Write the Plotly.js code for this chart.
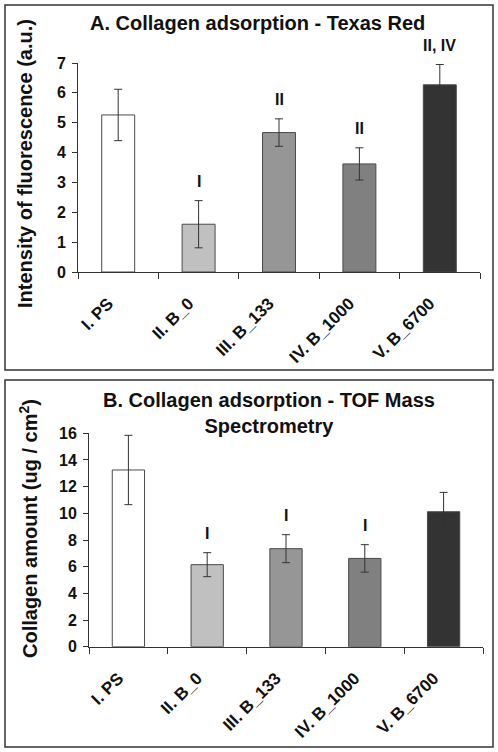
<!DOCTYPE html>
<html><head><meta charset="utf-8">
<script src="https://cdn.plot.ly/plotly-3.0.1.min.js"></script>
<style>html,body{margin:0;padding:0;background:#fff;}#c{width:498px;height:752px;}</style>
</head><body><div id="c"></div>
<script>
const categories = ["I. PS", "II. B_0", "III. B_133", "IV. B_1000", "V. B_6700"];
const barColors = ["#ffffff", "#c0c0c0", "#969696", "#808080", "#333333"];

const fluorValues = [5.26, 1.60, 4.67, 3.62, 6.27];
const fluorErrors = [0.86, 0.79, 0.46, 0.54, 0.68];
const fluorSig = ["", "I", "II", "II", "II, IV"];

const collagenValues = [13.25, 6.15, 7.35, 6.62, 10.12];
const collagenErrors = [2.6, 0.9, 1.05, 1.03, 1.45];
const collagenSig = ["", "I", "I", "I", ""];

const FONT = "Liberation Sans, Arial, sans-serif";
const W = 498, H = 752;
const px = v => v / W;
const py = v => 1 - v / H;

function barTrace(vals, errs, xa, ya) {
  return {
    type: "bar", x: categories, y: vals, xaxis: xa, yaxis: ya, width: 0.41,
    marker: {color: barColors, line: {color: "#4a4a4a", width: 1}},
    error_y: {type: "data", array: errs, visible: true, color: "#333333", thickness: 1, width: 4},
    hoverinfo: "none", showlegend: false
  };
}

const annotations = [];
function sigAnn(vals, errs, sig, xa, ya) {
  sig.forEach((s, i) => {
    if (!s) return;
    annotations.push({xref: xa, yref: ya, x: categories[i], y: vals[i] + errs[i], text: "<b>" + s + "</b>",
      showarrow: false, yshift: 19, yanchor: "middle", font: {family: FONT, size: 16, color: "#111"}});
  });
}
sigAnn(fluorValues, fluorErrors, fluorSig, "x", "y");
sigAnn(collagenValues, collagenErrors, collagenSig, "x2", "y2");

annotations.push({xref: "paper", yref: "paper", x: px(257), y: py(23), text: "<b>A. Collagen adsorption - Texas Red</b>",
  showarrow: false, xanchor: "center", yanchor: "middle", font: {family: FONT, size: 20, color: "#111"}});
annotations.push({xref: "paper", yref: "paper", x: px(269), y: py(413), text: "<b>B. Collagen adsorption - TOF Mass<br>Spectrometry</b>",
  showarrow: false, xanchor: "center", yanchor: "middle", font: {family: FONT, size: 20, color: "#111"}});
annotations.push({xref: "paper", yref: "paper", x: px(25), y: py(164), text: "<b>Intensity of fluorescence (a.u.)</b>", textangle: -90,
  showarrow: false, xanchor: "center", yanchor: "middle", font: {family: FONT, size: 20, color: "#111"}});
annotations.push({xref: "paper", yref: "paper", x: px(28), y: py(529), text: "<b>Collagen amount (ug / cm<sup>2</sup>)</b>", textangle: -90,
  showarrow: false, xanchor: "center", yanchor: "middle", font: {family: FONT, size: 20, color: "#111"}});

function xAxis(d, anchor) {
  return {domain: d, anchor: anchor, type: "category", showline: true, linecolor: "#333", linewidth: 1,
    ticks: "outside", tickson: "boundaries", ticklen: 6, tickcolor: "#333", tickangle: -45,
    ticklabelstandoff: 14, ticklabelshift: -10,
    tickfont: {family: FONT, size: 17, color: "#111", weight: "bold"}, showgrid: false, zeroline: false, fixedrange: true};
}
function yAxis(d, anchor, range, dtick) {
  return {domain: d, anchor: anchor, range: range, dtick: dtick, showline: true, linecolor: "#333", linewidth: 1,
    ticks: "outside", ticklen: 5, tickcolor: "#333", ticklabelstandoff: 3,
    tickfont: {family: FONT, size: 16, color: "#111", weight: "bold"}, showgrid: false, zeroline: false, fixedrange: true};
}

const layout = {
  width: W, height: H, margin: {l: 0, r: 0, t: 0, b: 0}, paper_bgcolor: "#fff", plot_bgcolor: "rgba(0,0,0,0)",
  xaxis: xAxis([px(78), px(480)], "y"),
  yaxis: yAxis([py(272), py(63)], "x", [0, 7], 1),
  xaxis2: xAxis([px(89), px(483)], "y2"),
  yaxis2: yAxis([py(646.7), py(433.3)], "x2", [0, 16], 2),
  annotations: annotations,
  shapes: [
    {type: "rect", xref: "paper", yref: "paper", x0: px(5), x1: px(493), y0: py(370), y1: py(5), line: {color: "#333", width: 1.5}},
    {type: "rect", xref: "paper", yref: "paper", x0: px(5), x1: px(493), y0: py(747), y1: py(380), line: {color: "#333", width: 1.5}}
  ]
};

Plotly.newPlot("c", [barTrace(fluorValues, fluorErrors, "x", "y"), barTrace(collagenValues, collagenErrors, "x2", "y2")], layout, {staticPlot: true});
</script></body></html>
